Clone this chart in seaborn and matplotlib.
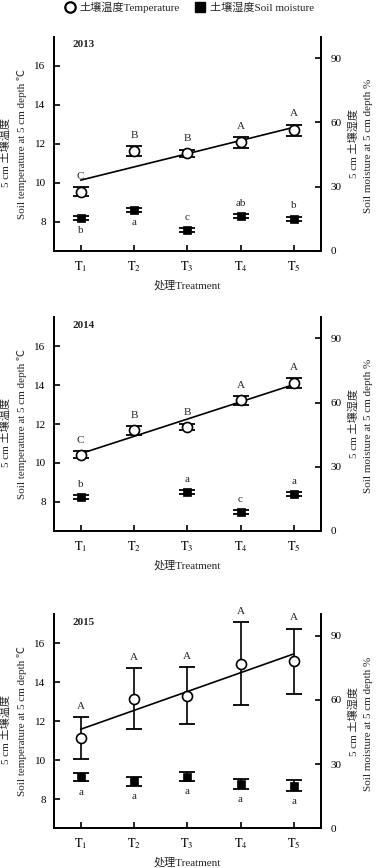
import numpy as np
import pandas as pd
import matplotlib
matplotlib.use("Agg")
import matplotlib.pyplot as plt
from matplotlib.lines import Line2D
import seaborn as sns

sns.set_theme(style="ticks")
plt.rcParams['font.family'] = ['Liberation Serif', 'Noto Sans CJK SC', 'DejaVu Sans']
plt.rcParams['mathtext.fontset'] = 'stix'

# ---------------- data ----------------
treatments = [1, 2, 3, 4, 5]
tick_labels = [r'$\mathrm{T}_1$', r'$\mathrm{T}_2$', r'$\mathrm{T}_3$', r'$\mathrm{T}_4$', r'$\mathrm{T}_5$']
years = ['2013', '2014', '2015']

temp_2013 = [9.53, 11.62, 11.50, 12.07, 12.70]
temp_err_2013 = [0.23, 0.24, 0.20, 0.27, 0.28]
moist_2013 = [15.3, 19.1, 9.7, 16.3, 15.0]
moist_err_2013 = [0.9, 0.8, 0.8, 0.9, 0.9]
temp_letters_2013 = ['C', 'B', 'B', 'A', 'A']
moist_letters_2013 = ['b', 'a', 'c', 'ab', 'b']
moist_letter_pos_2013 = ['below', 'below', 'above', 'above', 'above']

temp_2014 = [10.43, 11.67, 11.85, 13.21, 14.10]
temp_err_2014 = [0.16, 0.23, 0.17, 0.24, 0.27]
moist_2014 = [15.8, np.nan, 18.1, 8.8, 17.3]
moist_err_2014 = [0.9, np.nan, 0.9, 0.8, 0.9]
temp_letters_2014 = ['C', 'B', 'B', 'A', 'A']
moist_letters_2014 = ['b', '', 'a', 'c', 'a']
moist_letter_pos_2014 = ['above', 'above', 'above', 'above', 'above']

temp_2015 = [11.14, 13.15, 13.31, 14.96, 15.08]
temp_err_2015 = [1.06, 1.57, 1.46, 2.12, 1.68]
moist_2015 = [23.9, 22.0, 24.2, 20.8, 20.0]
moist_err_2015 = [2.0, 2.2, 2.0, 2.3, 2.6]
temp_letters_2015 = ['A', 'A', 'A', 'A', 'A']
moist_letters_2015 = ['a', 'a', 'a', 'a', 'a']
moist_letter_pos_2015 = ['below', 'below', 'below', 'below', 'below']

panels = [
    (years[0], temp_2013, temp_err_2013, moist_2013, moist_err_2013,
     temp_letters_2013, moist_letters_2013, moist_letter_pos_2013),
    (years[1], temp_2014, temp_err_2014, moist_2014, moist_err_2014,
     temp_letters_2014, moist_letters_2014, moist_letter_pos_2014),
    (years[2], temp_2015, temp_err_2015, moist_2015, moist_err_2015,
     temp_letters_2015, moist_letters_2015, moist_letter_pos_2015),
]

# ---------------- figure ----------------
W, H = 377, 868
fig = plt.figure(figsize=(W / 100, H / 100), dpi=100)
fig.patch.set_facecolor('white')

# pixel bottoms of each axes (from top of image)
bottoms_px = [250.7, 531.0, 828.3]
ax_h_px = 214.0
left_px, right_px = 54.0, 320.5

FS = 8
lw = 1.1

for (year, temp, terr, moist, merr, tlet, mlet, mpos), bpx in zip(panels, bottoms_px):
    ax = fig.add_axes([left_px / W, (H - bpx) / H, (right_px - left_px) / W, ax_h_px / H])
    ax2 = ax.twinx()
    ax.set_facecolor('none')

    df_t = pd.DataFrame({'x': treatments, 'temp': temp, 'err': terr})
    df_m = pd.DataFrame({'x': treatments, 'moist': moist, 'err': merr})

    # temperature: error bars, regression line, open circles
    ax.errorbar(df_t['x'], df_t['temp'], yerr=df_t['err'], fmt='none',
                ecolor='black', elinewidth=1.2, capsize=5.5, capthick=1.3, zorder=2)
    sns.regplot(data=df_t, x='x', y='temp', ax=ax, scatter=False, ci=None,
                truncate=True, line_kws=dict(color='black', lw=1.2, zorder=3))
    sns.scatterplot(data=df_t, x='x', y='temp', ax=ax, marker='o', s=52,
                    color='white', edgecolor='black', linewidth=1.2, zorder=5)

    # moisture: error bars + filled squares
    dm = df_m.dropna()
    ax2.errorbar(dm['x'], dm['moist'], yerr=dm['err'], fmt='none',
                 ecolor='black', elinewidth=1.2, capsize=5.5, capthick=1.3, zorder=2)
    sns.scatterplot(data=dm, x='x', y='moist', ax=ax2, marker='s', s=40,
                    color='black', edgecolor='black', linewidth=0.5, zorder=5)

    # significance letters
    for x, y, e, l in zip(treatments, temp, terr, tlet):
        ax.annotate(l, (x, y + e), xytext=(0, 4.5), textcoords='offset points',
                    ha='center', va='bottom', fontsize=FS)
    for x, y, e, l, p in zip(treatments, moist, merr, mlet, mpos):
        if not l or np.isnan(y):
            continue
        if p == 'below':
            ax2.annotate(l, (x, y - e), xytext=(0, -4.5), textcoords='offset points',
                         ha='center', va='top', fontsize=FS)
        else:
            ax2.annotate(l, (x, y + e), xytext=(0, 4.5), textcoords='offset points',
                         ha='center', va='bottom', fontsize=FS)

    # axes formatting
    ax.set_xlim(0.5, 5.5)
    ax.set_ylim(6.5, 17.5)
    ax2.set_ylim(0, 100)
    ax.set_xticks(treatments)
    ax.set_xticklabels(tick_labels)
    ax.set_yticks([8, 10, 12, 14, 16])
    ax2.set_yticks([0, 30, 60, 90])
    ax.set_xlabel('')
    ax.set_ylabel('')
    ax2.set_ylabel('')

    for a in (ax, ax2):
        a.spines['top'].set_visible(False)
        for s in ('left', 'right', 'bottom'):
            a.spines[s].set_linewidth(1.3)
            a.spines[s].set_color('black')
    ax.tick_params(axis='y', direction='in', length=4, width=1.2, pad=6,
                   labelsize=FS, colors='black')
    ax.tick_params(axis='x', direction='in', length=4, width=1.2, pad=6,
                   labelsize=FS + 1, colors='black')
    ax2.tick_params(axis='y', direction='in', length=4, width=1.2, pad=7,
                    labelsize=FS, colors='black')

    # year label
    ax.text(0.068, 0.962, year, transform=ax.transAxes, ha='left', va='center',
            fontsize=FS, fontweight='bold')

    # axis titles
    ax.text(-0.18, 0.46, '5 cm 土壤温度', transform=ax.transAxes, rotation=90,
            ha='center', va='center', fontsize=FS)
    ax.text(-0.12, 0.5, 'Soil temperature at 5 cm depth ℃', transform=ax.transAxes,
            rotation=90, ha='center', va='center', fontsize=FS)
    ax2.text(1.123, 0.5, '5 cm 土壤湿度', transform=ax.transAxes, rotation=90,
             ha='center', va='center', fontsize=FS)
    ax2.text(1.18, 0.49, 'Soil moisture at 5 cm depth %', transform=ax.transAxes,
             rotation=90, ha='center', va='center', fontsize=FS)
    ax.text(0.5, -0.16, '处理Treatment', transform=ax.transAxes, ha='center',
            va='center', fontsize=FS)

# legend
handles = [
    Line2D([], [], marker='o', linestyle='none', markersize=7.5,
           markerfacecolor='white', markeredgecolor='black', markeredgewidth=1.6),
    Line2D([], [], marker='s', linestyle='none', markersize=7.5,
           markerfacecolor='black', markeredgecolor='black'),
]
fig.legend(handles, ['土壤温度Temperature', '土壤湿度Soil moisture'],
           loc='upper center', bbox_to_anchor=(0.5, 1.003), ncol=2, frameon=False,
           fontsize=FS, handletextpad=0.3, columnspacing=1.2, borderaxespad=0.0,
           handlelength=1.2)

fig.savefig('out.png', dpi=100, facecolor='white')
